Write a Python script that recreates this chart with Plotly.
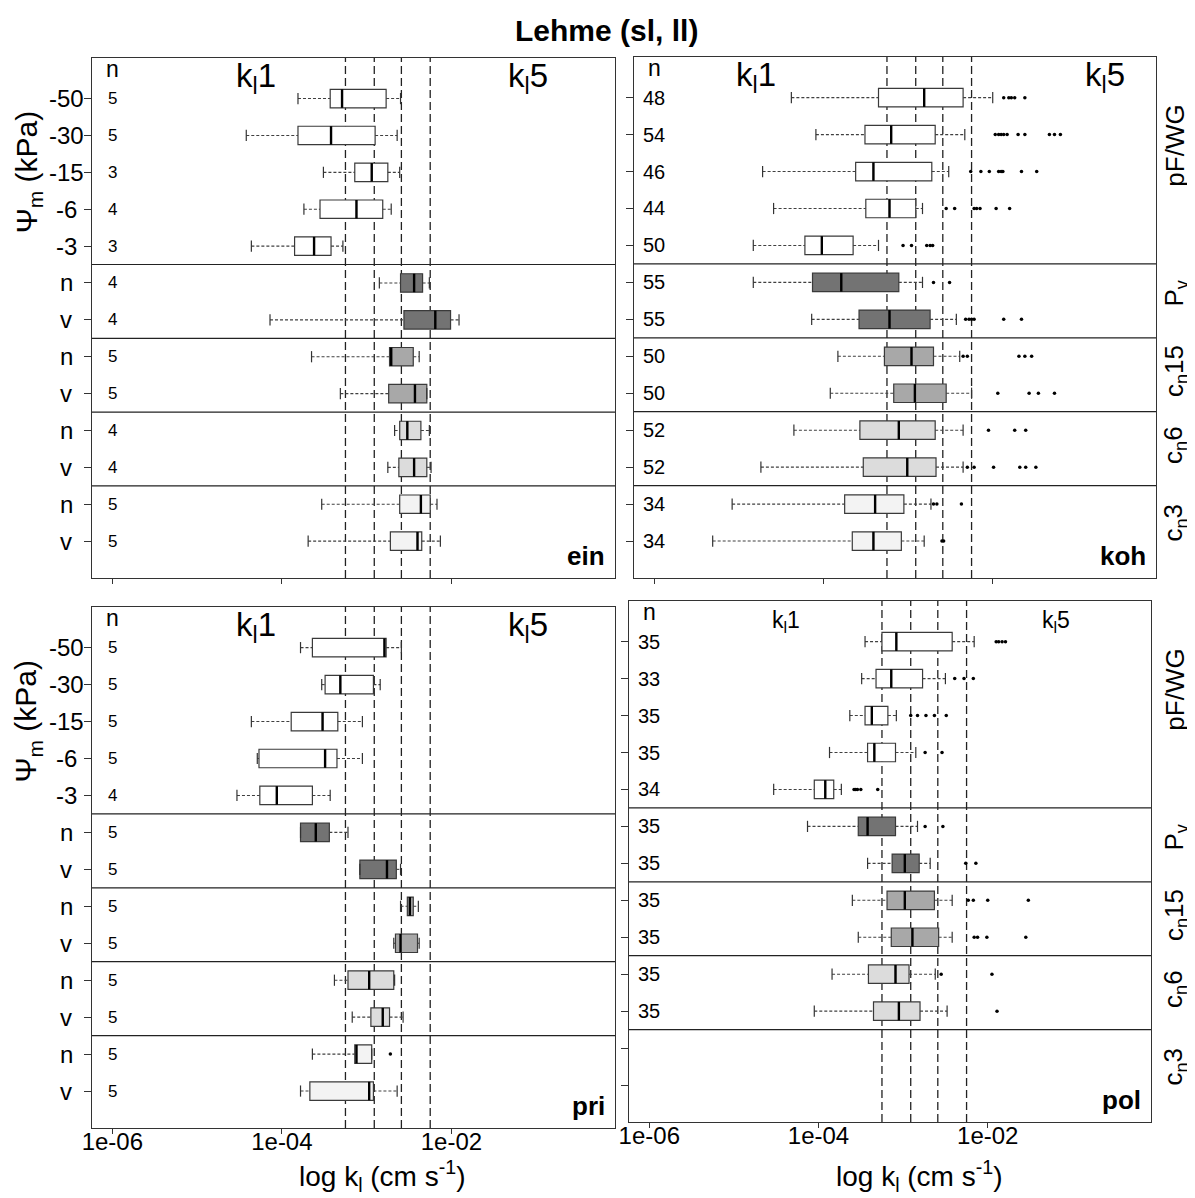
import plotly.graph_objects as go

# rows from top to bottom, grouped by treatment
row_labels = ["-50", "-30", "-15", "-6", "-3", "n", "v", "n", "v", "n", "v", "n", "v"]
row_group = [0, 0, 0, 0, 0, 1, 1, 2, 2, 3, 3, 4, 4]
group_labels = ["pF/WG", "P<sub>v</sub>", "c<sub>n</sub>15", "c<sub>n</sub>6", "c<sub>n</sub>3"]
group_pos = [11.7, 7.7, 5.6, 3.6, 1.5]
group_colors = ["#ffffff", "#737373", "#a8a8a8", "#dcdcdc", "#f3f3f3"]
kl_limits = [-3.25, -2.91, -2.59, -2.25]   # log10 of class limits

# all kl values as log10(cm/s)
ein_n = [5, 5, 3, 4, 3, 4, 4, 5, 5, 4, 4, 5, 5]
ein_lo = [-3.81, -4.42, -3.51, -3.74, -4.36, -2.85, -4.14, -3.65, -3.31, -2.67, -2.75, -3.53, -3.69]
ein_q1 = [-3.43, -3.81, -3.14, -3.55, -3.85, -2.60, -2.56, -2.73, -2.74, -2.61, -2.62, -2.61, -2.72]
ein_med = [-3.29, -3.42, -2.94, -3.12, -3.62, -2.44, -2.19, -2.71, -2.43, -2.52, -2.44, -2.36, -2.40]
ein_q3 = [-2.77, -2.90, -2.75, -2.81, -3.42, -2.34, -2.01, -2.45, -2.29, -2.36, -2.29, -2.25, -2.35]
ein_hi = [-2.60, -2.64, -2.61, -2.71, -3.28, -2.26, -1.91, -2.38, -2.29, -2.26, -2.24, -2.17, -2.13]
ein_out = [[], [], [], [], [], [], [], [], [], [], [], [], []]

koh_n = [48, 54, 46, 44, 50, 55, 55, 50, 50, 52, 52, 34, 34]
koh_lo = [-4.38, -4.09, -4.72, -4.59, -4.83, -4.83, -4.14, -3.83, -3.92, -4.35, -4.74, -5.08, -5.31]
koh_q1 = [-3.35, -3.51, -3.62, -3.50, -4.22, -4.13, -3.58, -3.28, -3.17, -3.57, -3.53, -3.75, -3.66]
koh_med = [-2.81, -3.20, -3.41, -3.22, -4.02, -3.79, -3.22, -2.96, -2.92, -3.11, -3.01, -3.39, -3.41]
koh_q3 = [-2.35, -2.68, -2.72, -2.91, -3.65, -3.11, -2.74, -2.70, -2.55, -2.68, -2.67, -3.05, -3.08]
koh_hi = [-2.00, -2.33, -2.52, -2.83, -3.35, -2.83, -2.43, -2.39, -2.25, -2.35, -2.35, -2.73, -2.81]
koh_out = [
    [-1.87, -1.81, -1.78, -1.74, -1.62],
    [-1.97, -1.93, -1.90, -1.87, -1.83, -1.70, -1.62, -1.33, -1.27, -1.20],
    [-2.26, -2.14, -2.04, -1.93, -1.90, -1.88, -1.66, -1.48],
    [-2.55, -2.45, -2.22, -2.19, -2.15, -1.96, -1.80],
    [-3.06, -2.96, -2.78, -2.74, -2.71],
    [-2.70, -2.51],
    [-2.32, -2.28, -2.25, -2.22, -1.87, -1.66],
    [-2.35, -2.30, -1.69, -1.62, -1.54],
    [-1.94, -1.57, -1.46, -1.27],
    [-2.05, -1.74, -1.61],
    [-2.30, -2.22, -1.99, -1.68, -1.61, -1.49],
    [-2.70, -2.66, -2.37],
    [-2.60, -2.58],
]

pri_n = [5, 5, 5, 5, 4, 5, 5, 5, 5, 5, 5, 5, 5]
pri_lo = [-3.78, -3.53, -4.36, -4.29, -4.53, -3.78, -3.08, -2.60, -2.68, -3.38, -3.17, -3.64, -3.78]
pri_q1 = [-3.64, -3.49, -3.89, -4.27, -4.26, -3.78, -3.08, -2.52, -2.66, -3.22, -2.95, -3.14, -3.67]
pri_med = [-2.79, -3.31, -3.52, -3.49, -4.06, -3.60, -2.76, -2.49, -2.60, -2.97, -2.81, -3.12, -2.97]
pri_q3 = [-2.77, -2.92, -3.34, -3.35, -3.64, -3.44, -2.65, -2.45, -2.40, -2.68, -2.73, -2.94, -2.92]
pri_hi = [-2.59, -2.84, -3.05, -3.05, -3.43, -3.22, -2.60, -2.39, -2.38, -2.67, -2.57, -2.94, -2.64]
pri_out = [[], [], [], [], [], [], [], [], [], [], [], [-2.72], []]

pol_n = [35, 33, 35, 35, 34, 35, 35, 35, 35, 35, 35]
pol_lo = [-3.45, -3.49, -3.63, -3.87, -4.53, -4.13, -3.42, -3.60, -3.53, -3.84, -4.05]
pol_q1 = [-3.25, -3.32, -3.45, -3.42, -4.05, -3.53, -3.13, -3.19, -3.14, -3.41, -3.35]
pol_med = [-3.08, -3.14, -3.37, -3.34, -3.92, -3.42, -2.98, -2.98, -2.89, -3.09, -3.05]
pol_q3 = [-2.42, -2.77, -3.18, -3.09, -3.82, -3.09, -2.81, -2.63, -2.58, -2.93, -2.80]
pol_hi = [-2.16, -2.50, -3.08, -2.85, -3.73, -2.83, -2.68, -2.42, -2.42, -2.62, -2.48]
pol_out = [
    [-1.90, -1.87, -1.83, -1.79],
    [-2.39, -2.28, -2.17],
    [-2.91, -2.83, -2.73, -2.63, -2.49],
    [-2.74, -2.54],
    [-3.58, -3.56, -3.54, -3.50, -3.30],
    [-2.74, -2.53],
    [-2.26, -2.14],
    [-2.23, -2.17, -2.00, -1.52],
    [-2.16, -2.12, -2.01, -1.55],
    [-2.55, -1.95],
    [-1.89],
]

# page body has an 8px margin, so the figure is a bit smaller and positions are shifted
OFF = 8
W, H = 1195 - OFF, 1198 - OFF
FONT = "Liberation Sans, Arial, sans-serif"


def fx(px):
    return (px - OFF) / W


def fy(py):
    return 1 - (py - OFF) / H


# panel frames in screen pixels: left, right, top, bottom
panels = [
    dict(name="ein", n=ein_n, lo=ein_lo, q1=ein_q1, med=ein_med, q3=ein_q3, hi=ein_hi, out=ein_out,
         px=(92, 615, 58, 578), left=True, bottom=False, kl=(-4.31, -1.10), klsize=33, nsize=17),
    dict(name="koh", n=koh_n, lo=koh_lo, q1=koh_q1, med=koh_med, q3=koh_q3, hi=koh_hi, out=koh_out,
         px=(634, 1156, 57, 578), left=False, bottom=False, kl=(-4.80, -0.67), klsize=33, nsize=20),
    dict(name="pri", n=pri_n, lo=pri_lo, q1=pri_q1, med=pri_med, q3=pri_q3, hi=pri_hi, out=pri_out,
         px=(92, 615, 607, 1128), left=True, bottom=True, kl=(-4.31, -1.10), klsize=33, nsize=17),
    dict(name="pol", n=pol_n, lo=pol_lo, q1=pol_q1, med=pol_med, q3=pol_q3, hi=pol_hi, out=pol_out,
         px=(629, 1151, 601, 1122), left=False, bottom=True, kl=(-4.39, -1.19), klsize=23, nsize=20),
]

fig = go.Figure()
shapes = []
annotations = []
layout_axes = {}

for k, p in enumerate(panels):
    sfx = "" if k == 0 else str(k + 1)
    xa, ya = "x" + sfx, "y" + sfx
    l, r, t, b = p["px"]
    nrow = len(p["n"])
    pos = [13 - i for i in range(nrow)]

    # whiskers (dotted)
    wx, wy = [], []
    for i in range(nrow):
        wx += [10 ** p["lo"][i], 10 ** p["q1"][i], None, 10 ** p["q3"][i], 10 ** p["hi"][i], None]
        wy += [pos[i], pos[i], None, pos[i], pos[i], None]
    fig.add_trace(go.Scatter(x=wx, y=wy, mode="lines", xaxis=xa, yaxis=ya, showlegend=False,
                             line=dict(color="#404040", width=1.1, dash="3px,2px"), hoverinfo="skip"))

    # boxes per treatment group
    for g in range(5):
        idx = [i for i in range(nrow) if row_group[i] == g]
        if not idx:
            continue
        fig.add_trace(go.Box(
            y=[pos[i] for i in idx],
            q1=[10 ** p["q1"][i] for i in idx],
            median=[10 ** p["med"][i] for i in idx],
            q3=[10 ** p["q3"][i] for i in idx],
            lowerfence=[10 ** p["q1"][i] for i in idx],
            upperfence=[10 ** p["q3"][i] for i in idx],
            orientation="h", width=0.5, whiskerwidth=0, boxpoints=False,
            fillcolor=group_colors[g], line=dict(color="#3a3a3a", width=1.2),
            xaxis=xa, yaxis=ya, showlegend=False, hoverinfo="skip"))

    # medians (thick)
    mx, my = [], []
    for i in range(nrow):
        mx += [10 ** p["med"][i], 10 ** p["med"][i], None]
        my += [pos[i] - 0.25, pos[i] + 0.25, None]
    fig.add_trace(go.Scatter(x=mx, y=my, mode="lines", xaxis=xa, yaxis=ya, showlegend=False,
                             line=dict(color="black", width=2.4), hoverinfo="skip"))

    # whisker caps
    fig.add_trace(go.Scatter(
        x=[10 ** v for v in p["lo"]] + [10 ** v for v in p["hi"]], y=pos + pos,
        mode="markers", xaxis=xa, yaxis=ya, showlegend=False, hoverinfo="skip",
        marker=dict(symbol="line-ns", size=8, line=dict(color="#333333", width=1.2))))

    # outliers
    ox, oy = [], []
    for i in range(nrow):
        ox += [10 ** v for v in p["out"][i]]
        oy += [pos[i]] * len(p["out"][i])
    fig.add_trace(go.Scatter(x=ox, y=oy, mode="markers", xaxis=xa, yaxis=ya, showlegend=False,
                             marker=dict(color="black", size=3.5), hoverinfo="skip"))

    layout_axes["xaxis" + sfx] = dict(
        domain=[fx(l), fx(r)], anchor=ya, type="log", range=[-6.24, -0.07],
        tickvals=[1e-6, 1e-4, 1e-2], ticktext=["1e-06", "1e-04", "1e-02"],
        ticks="outside", ticklen=5, tickcolor="#333333", showticklabels=p["bottom"],
        ticklabelstandoff=-13,
        tickfont=dict(size=24, family=FONT, color="black"),
        showgrid=False, zeroline=False, showline=True, mirror=True,
        linecolor="#333333", linewidth=1.2, automargin=False)
    layout_axes["yaxis" + sfx] = dict(
        domain=[fy(b), fy(t)], anchor=xa, range=[0, 14.1],
        tickvals=list(range(13, 0, -1)), ticks="outside", ticklen=7, tickcolor="#333333",
        showticklabels=False, showgrid=False, zeroline=False, showline=True, mirror=True,
        linecolor="#333333", linewidth=1.2, automargin=False)

    # class limits and group separators
    for v in kl_limits:
        shapes.append(dict(type="line", xref=xa, yref=ya + " domain", x0=10 ** v, x1=10 ** v,
                           y0=0, y1=1, layer="below", line=dict(color="#222222", width=1.3, dash="8px,4px")))
    for s in [8.5, 6.5, 4.5, 2.5]:
        shapes.append(dict(type="line", xref=xa + " domain", yref=ya, x0=0, x1=1, y0=s, y1=s,
                           line=dict(color="#222222", width=1.2)))

    # n column
    annotations.append(dict(text="n", xref=xa, yref=ya, x=-6, y=13.8, showarrow=False,
                            xanchor="center", yanchor="middle",
                            font=dict(size=23, family=FONT, color="black")))
    for i in range(nrow):
        annotations.append(dict(text=str(p["n"][i]), xref=xa, yref=ya, x=-6, y=pos[i],
                                xanchor="center", yanchor="middle", showarrow=False,
                                font=dict(size=p["nsize"], family=FONT, color="black")))

    # class names
    for txt, xv in zip(["k<sub>l</sub>1", "k<sub>l</sub>5"], p["kl"]):
        annotations.append(dict(text=txt, xref=xa, yref=ya, x=xv, y=13.55, showarrow=False,
                                xanchor="center", yanchor="middle",
                                font=dict(size=p["klsize"], family=FONT, color="black")))

    # panel name
    annotations.append(dict(text="<b>" + p["name"] + "</b>", xref=xa + " domain", yref=ya,
                            x=0.985, y=0.6, xanchor="right", yanchor="middle", showarrow=False,
                            font=dict(size=26, family=FONT, color="black")))

    if p["left"]:
        for i in range(13):
            annotations.append(dict(text=row_labels[i], xref="paper", yref=ya, x=fx(66), y=pos[i],
                                    xanchor="center", yanchor="middle", showarrow=False,
                                    font=dict(size=24, family=FONT, color="black")))
        annotations.append(dict(text="\u03a8<sub>m</sub> (kPa)", xref="paper", yref=ya, x=fx(28), y=11,
                                xanchor="center", yanchor="middle", textangle=-90, showarrow=False,
                                font=dict(size=30, family=FONT, color="black")))
    else:
        for g in range(5):
            annotations.append(dict(text=group_labels[g], xref="paper", yref=ya, x=fx(1175),
                                    y=group_pos[g], xanchor="center", yanchor="middle",
                                    textangle=-90, showarrow=False,
                                    font=dict(size=26, family=FONT, color="black")))

    if p["bottom"]:
        cx = l + 290
        annotations.append(dict(text="log k<sub>l</sub> (cm s<sup>-1</sup>)", xref="paper", yref="paper",
                                x=fx(cx), y=fy(1176), xanchor="center", yanchor="middle", showarrow=False,
                                font=dict(size=28, family=FONT, color="black")))

annotations.append(dict(text="<b>Lehme (sl, ll)</b>", xref="paper", yref="paper",
                        x=fx(607), y=fy(30), xanchor="center", yanchor="middle", showarrow=False,
                        font=dict(size=30, family=FONT, color="black")))

fig.update_layout(
    width=W, height=H, autosize=False,
    margin=dict(l=0, r=0, t=0, b=0),
    paper_bgcolor="white", plot_bgcolor="white",
    boxmode="overlay", shapes=shapes, annotations=annotations,
    font=dict(family=FONT, color="black"),
    **layout_axes,
)

fig.write_html("out.html")
